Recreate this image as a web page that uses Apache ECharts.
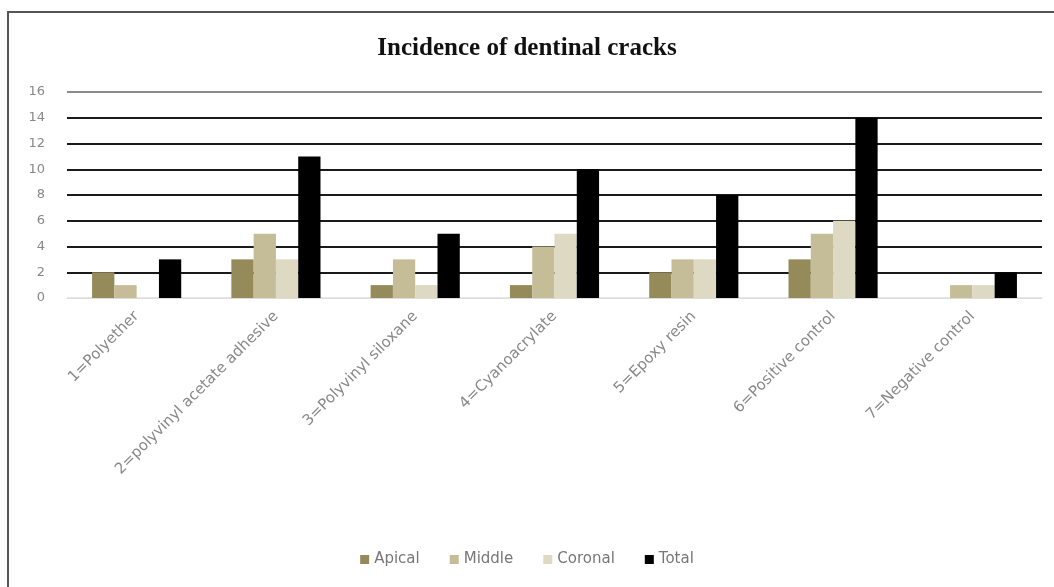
<!DOCTYPE html>
<html>
<head>
<meta charset="utf-8">
<script src="https://cdn.jsdelivr.net/npm/echarts@6/dist/echarts.min.js"></script>
<style>
  html, body { margin: 0; padding: 0; background: #fff; }
  #chart { position: absolute; left: 0; top: 0; width: 1054px; height: 587px; }
  #frame { position: absolute; left: 7px; top: 11px; width: 1060px; height: 600px;
           border-left: 2px solid #555; border-top: 2px solid #555; pointer-events: none; }
</style>
</head>
<body>
<div id="chart"></div>
<div id="frame"></div>
<script>
// 数据
var categories = ['1=Polyether', '2=polyvinyl acetate adhesive', '3=Polyvinyl siloxane',
  '4=Cyanoacrylate', '5=Epoxy resin', '6=Positive control', '7=Negative control'];
var apical  = [2, 3, 1, 1, 2, 3, 0];
var middle  = [1, 5, 3, 4, 3, 5, 1];
var coronal = [0, 3, 1, 5, 3, 6, 1];
var total   = [3, 11, 5, 10, 8, 14, 2];
var yTicks = [0, 2, 4, 6, 8, 10, 12, 14, 16];

var chart = echarts.init(document.getElementById('chart'));

function bar(name, data, color) {
  return {
    name: name,
    type: 'bar',
    data: data,
    barGap: '0%',
    barCategoryGap: '36%',
    itemStyle: { color: color }
  };
}

var option = {
  animation: false,
  title: {
    text: 'Incidence of dentinal cracks',
    left: 'center',
    top: 31,
    textStyle: { fontFamily: 'Liberation Serif', fontWeight: 'bold', fontSize: 25, color: '#111' }
  },
  legend: {
    top: 547,
    left: 'center',
    itemWidth: 9,
    itemHeight: 9,
    itemGap: 30,
    icon: 'rect',
    textStyle: { color: '#777', fontSize: 15, fontFamily: 'DejaVu Sans' },
    data: ['Apical', 'Middle', 'Coronal', 'Total']
  },
  grid: { left: 67, right: 12, top: 92, bottom: 289 },
  xAxis: {
    type: 'category',
    data: categories,
    axisLine: { lineStyle: { color: '#ddd', width: 1 } },
    axisTick: { show: false },
    axisLabel: { rotate: 45, color: '#888', fontSize: 15, fontFamily: 'DejaVu Sans', margin: 16, interval: 0 }
  },
  yAxis: {
    type: 'value',
    min: yTicks[0],
    max: yTicks[yTicks.length - 1],
    interval: 2,
    axisLine: { show: false },
    axisTick: { show: false },
    axisLabel: { color: '#888', fontSize: 13, fontFamily: 'DejaVu Sans', margin: 22 },
    splitLine: {
      lineStyle: {
        width: 2,
        color: ['#e6e6e6', '#1a1a1a', '#1a1a1a', '#1a1a1a', '#1a1a1a', '#1a1a1a', '#1a1a1a', '#1a1a1a', '#8a8a8a']
      }
    }
  },
  series: [
    bar('Apical', apical, '#948a5a'),
    bar('Middle', middle, '#c4bd97'),
    bar('Coronal', coronal, '#ddd9c3'),
    bar('Total', total, '#000000')
  ]
};

chart.setOption(option);
</script>
</body>
</html>
